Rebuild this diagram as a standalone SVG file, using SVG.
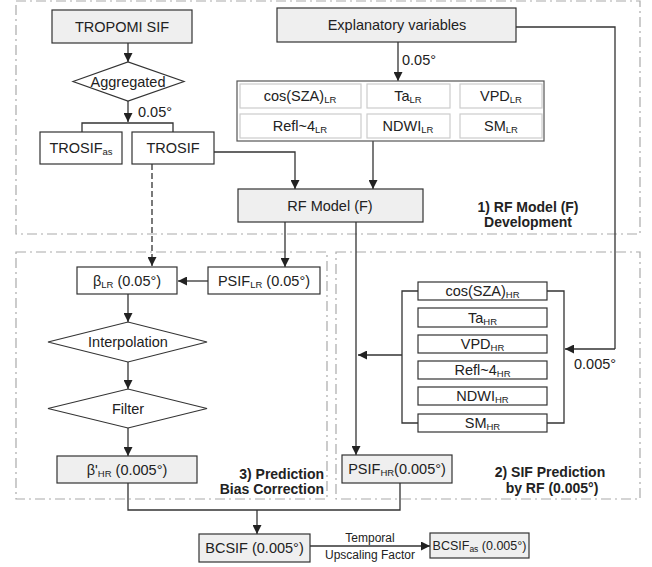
<svg xmlns="http://www.w3.org/2000/svg" width="652" height="567" viewBox="0 0 652 567">
<defs>
<marker id="ah" viewBox="0 0 10 10" refX="10" refY="5" markerWidth="9" markerHeight="9" markerUnits="userSpaceOnUse" orient="auto">
<path d="M0,0 L10,5 L0,10 z" fill="#222"/>
</marker>
<style>
text{font-family:"Liberation Sans",Arial,sans-serif;fill:#222;font-size:14.5px}
.m{text-anchor:middle}
.b{font-weight:bold;font-size:14px}
.s{font-size:9.5px}
.sm{font-size:12px}
.g{fill:#efefef;stroke:#333;stroke-width:1.2}
.w{fill:#fff;stroke:#333;stroke-width:1.2}
.c{fill:#fff;stroke:#ccc;stroke-width:1.2}
.reg{fill:none;stroke:#aaa;stroke-width:1.2;stroke-dasharray:10 4 2 4}
.ln{fill:none;stroke:#333;stroke-width:1.3}
.ar{fill:none;stroke:#333;stroke-width:1.3;marker-end:url(#ah)}
.da{fill:none;stroke:#333;stroke-width:1.3;stroke-dasharray:6 3;marker-end:url(#ah)}
</style>
</defs>
<rect width="652" height="567" fill="#fff"/>
<g id="regions">
<rect class="reg" x="16" y="1" width="624" height="233"/>
<rect class="reg" x="16" y="252" width="311" height="247"/>
<rect class="reg" x="336" y="252" width="304" height="247"/>
</g>
<g id="connectors">
<path class="ar" d="M128,43 V62"/>
<path class="ar" d="M128,101 V122"/>
<path class="ln" d="M82,132 V123 H173 V132"/>
<path class="ar" d="M214,152 H295 V189"/>
<path class="da" d="M152,164 V266"/>
<path class="ar" d="M398,42 V81"/>
<path class="ar" d="M373,141 V189"/>
<path class="ln" d="M516,27 H615 V349"/>
<path class="ar" d="M615,349 H565"/>
<path class="ar" d="M285,222 V267"/>
<path class="ar" d="M356,222 V455"/>
<path class="ar" d="M208,281 H178"/>
<path class="ar" d="M128,294 V322"/>
<path class="ar" d="M128,362 V389"/>
<path class="ar" d="M128,428 V456"/>
<path class="ln" d="M418,291 H402 V423 H418"/>
<path class="ln" d="M547,291 H564 V423 H547"/>
<path class="ar" d="M402,355 H358"/>
<path class="ln" d="M128,483 V510 H400 V483"/>
<path class="ar" d="M257,510 V534"/>
<path class="ar" d="M310,546 H430"/>
<text class="sm m" x="370" y="542">Temporal</text>
<text class="sm m" x="370" y="559">Upscaling Factor</text>
<text x="138" y="117">0.05°</text>
<text x="402" y="65">0.05°</text>
<text x="574" y="369">0.005°</text>
</g>
<g id="tropomi"><rect class="g" x="52" y="10" width="140" height="33"/><text class="m" x="122" y="31.5">TROPOMI SIF</text></g>
<g id="aggregated"><polygon class="w" points="73,81.5 128,62 184,81.5 128,101"/><text class="m" x="128" y="86.5">Aggregated</text></g>
<g id="trosif-as"><rect class="w" x="40" y="132" width="82" height="32"/><text class="m" x="81" y="153">TROSIF<tspan class="s" dy="2">as</tspan></text></g>
<g id="trosif"><rect class="w" x="132" y="132" width="82" height="32"/><text class="m" x="173" y="153">TROSIF</text></g>
<g id="explanatory"><rect class="g" x="277" y="8" width="239" height="34"/><text class="m" x="397" y="30">Explanatory variables</text></g>
<g id="lr-vars">
<rect x="237" y="81" width="307" height="60" fill="#fff" stroke="#555" stroke-width="1.2"/>
<rect class="c" x="240" y="84" width="121" height="24"/><text class="m" x="300" y="101">cos(SZA)<tspan class="s" dy="2">LR</tspan></text>
<rect class="c" x="367" y="84" width="83" height="24"/><text class="m" x="408" y="101">Ta<tspan class="s" dy="2">LR</tspan></text>
<rect class="c" x="460" y="84" width="82" height="24"/><text class="m" x="501" y="101">VPD<tspan class="s" dy="2">LR</tspan></text>
<rect class="c" x="240" y="114" width="121" height="24"/><text class="m" x="300" y="131">Refl~4<tspan class="s" dy="2">LR</tspan></text>
<rect class="c" x="367" y="114" width="83" height="24"/><text class="m" x="408" y="131">NDWI<tspan class="s" dy="2">LR</tspan></text>
<rect class="c" x="460" y="114" width="82" height="24"/><text class="m" x="501" y="131">SM<tspan class="s" dy="2">LR</tspan></text>
</g>
<g id="rf-model"><rect class="g" x="238" y="189" width="185" height="33"/><text class="m" x="330" y="210.5">RF Model (F)</text></g>
<g id="label1"><text class="b m" x="528" y="212">1) RF Model (F)</text><text class="b m" x="528" y="227">Development</text></g>
<g id="beta-lr"><rect class="w" x="77" y="267" width="100" height="27"/><text class="m" x="127" y="285.5">β<tspan class="s" dy="2">LR</tspan><tspan dy="-2"> (0.05°)</tspan></text></g>
<g id="psif-lr"><rect class="w" x="208" y="267" width="112" height="27"/><text class="m" x="264" y="285.5">PSIF<tspan class="s" dy="2">LR</tspan><tspan dy="-2"> (0.05°)</tspan></text></g>
<g id="interpolation"><polygon class="w" points="48,342 128,322 207,342 128,362"/><text class="m" x="128" y="347">Interpolation</text></g>
<g id="filter"><polygon class="w" points="48,408.5 128,389 207,408.5 128,428"/><text class="m" x="128" y="413.5">Filter</text></g>
<g id="beta-hr"><rect class="g" x="57" y="456" width="140" height="27"/><text class="m" x="127" y="474.5">β'<tspan class="s" dy="2">HR</tspan><tspan dy="-2"> (0.005°)</tspan></text></g>
<g id="label3"><text class="b" x="324" y="479" text-anchor="end">3) Prediction</text><text class="b" x="324" y="494" text-anchor="end">Bias Correction</text></g>
<g id="hr-vars">
<rect class="w" x="418" y="282" width="129" height="18"/><text class="m" x="482.5" y="296">cos(SZA)<tspan class="s" dy="2">HR</tspan></text>
<rect class="w" x="418" y="308" width="129" height="19"/><text class="m" x="482.5" y="322.5">Ta<tspan class="s" dy="2">HR</tspan></text>
<rect class="w" x="418" y="335" width="129" height="18"/><text class="m" x="482.5" y="349">VPD<tspan class="s" dy="2">HR</tspan></text>
<rect class="w" x="418" y="361" width="129" height="18"/><text class="m" x="482.5" y="375">Refl~4<tspan class="s" dy="2">HR</tspan></text>
<rect class="w" x="418" y="387" width="129" height="18"/><text class="m" x="482.5" y="401">NDWI<tspan class="s" dy="2">HR</tspan></text>
<rect class="w" x="418" y="414" width="129" height="18"/><text class="m" x="482.5" y="428">SM<tspan class="s" dy="2">HR</tspan></text>
</g>
<g id="psif-hr"><rect class="g" x="342" y="455" width="110" height="28"/><text class="m" x="397" y="474">PSIF<tspan class="s" dy="2">HR</tspan><tspan dy="-2">(0.005°)</tspan></text></g>
<g id="label2"><text class="b m" x="550" y="477">2) SIF Prediction</text><text class="b m" x="552" y="493">by RF (0.005°)</text></g>
<g id="bcsif"><rect class="g" x="199" y="534" width="111" height="28"/><text class="m" x="254.5" y="553">BCSIF (0.005°)</text></g>
<g id="bcsif-as"><rect class="g" x="430" y="533" width="99" height="25"/><text class="m" x="479.5" y="550" style="font-size:12.5px">BCSIF<tspan style="font-size:8.5px" dy="2">as</tspan><tspan dy="-2"> (0.005°)</tspan></text></g>
</svg>
